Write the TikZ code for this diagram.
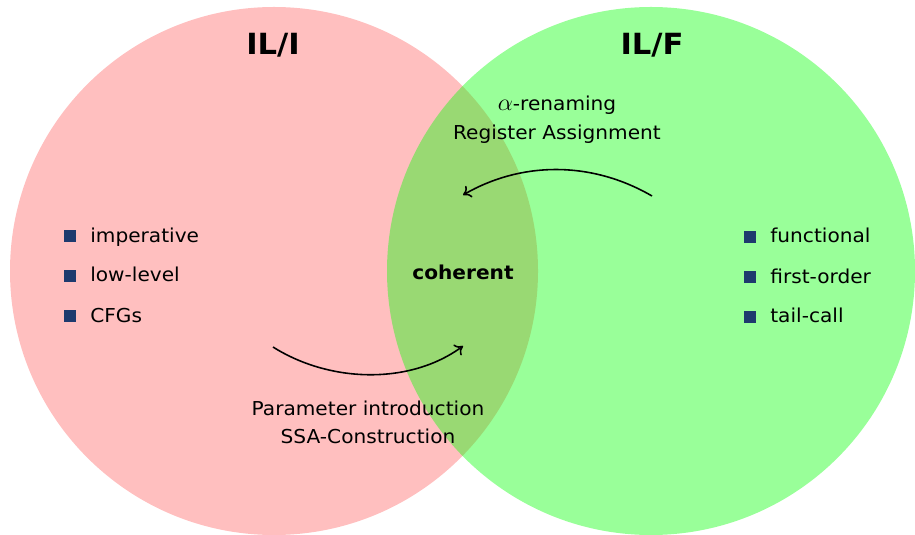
\documentclass[tikz,border=0pt]{standalone}
\usepackage{fontspec}
\setmainfont[FakeStretch=1.05]{DejaVu Sans}
\usetikzlibrary{arrows.meta}
\definecolor{itemblue}{RGB}{30,58,110}
\begin{document}
\begin{tikzpicture}[x=0.6pt,y=-0.6pt,
  setI/.style={fill=red,fill opacity=0.25},
  setF/.style={fill=green,fill opacity=0.4},
  title/.style={font=\fontsize{17.5}{20}\selectfont\bfseries,anchor=base,inner sep=0},
  label/.style={font=\fontsize{11.5}{14}\selectfont,anchor=base,inner sep=0},
  itemtext/.style={font=\fontsize{11.5}{14}\selectfont,anchor=base west,inner sep=0},
  bullet/.style={fill=itemblue,minimum size=7.2pt,inner sep=0,outer sep=0},
  step arrow/.style={line width=0.95pt,-{To[length=4.5pt,width=8pt]}}]
  \useasboundingbox (0,0) rectangle (915,535);

  % the two languages as overlapping sets
  \path[setI] (274,271) circle[radius=264];
  \path[setF] (651,271) circle[radius=264];

  % set titles
  \node[title] (ilI) at (273,55) {IL/I};
  \node[title] (ilF) at (652,55) {IL/F};

  % properties of IL/I
  \node[bullet] (bI1) at (70,236) {};
  \node[bullet] (bI2) at (70,276) {};
  \node[bullet] (bI3) at (70,316) {};
  \node[itemtext] (tI1) at (90,243) {imperative};
  \node[itemtext] (tI2) at (90,282) {low-level};
  \node[itemtext] (tI3) at (90,322) {CFGs};

  % properties of IL/F
  \node[bullet] (bF1) at (750,237) {};
  \node[bullet] (bF2) at (750,277) {};
  \node[bullet] (bF3) at (750,317) {};
  \node[itemtext] (tF1) at (770,243) {functional};
  \node[itemtext] (tF2) at (770,283) {first-order};
  \node[itemtext] (tF3) at (770,323) {tail-call};

  % the common part
  \node[label,font=\fontsize{11.5}{14}\selectfont\bfseries] (coh) at (463,280) {coherent};

  % translation from IL/F into the coherent fragment
  \node[label] (ren) at (557,111) {{\fontsize{14}{16}\selectfont$\alpha$}-renaming};
  \node[label] (reg) at (557,140) {Register Assignment};
  \coordinate (fromF) at (652,196);
  \coordinate (toC1) at (463,195);
  \draw[step arrow] (fromF) .. controls (590,160) and (520,162) .. (toC1);

  % translation from IL/I into the coherent fragment
  \coordinate (fromI) at (273,347);
  \coordinate (toC2) at (463,346);
  \draw[step arrow] (fromI) .. controls (330,383) and (410,385) .. (toC2);
  \node[label] (par) at (368,415) {Parameter introduction};
  \node[label] (ssa) at (368,443) {SSA-Construction};
\end{tikzpicture}
\end{document}
